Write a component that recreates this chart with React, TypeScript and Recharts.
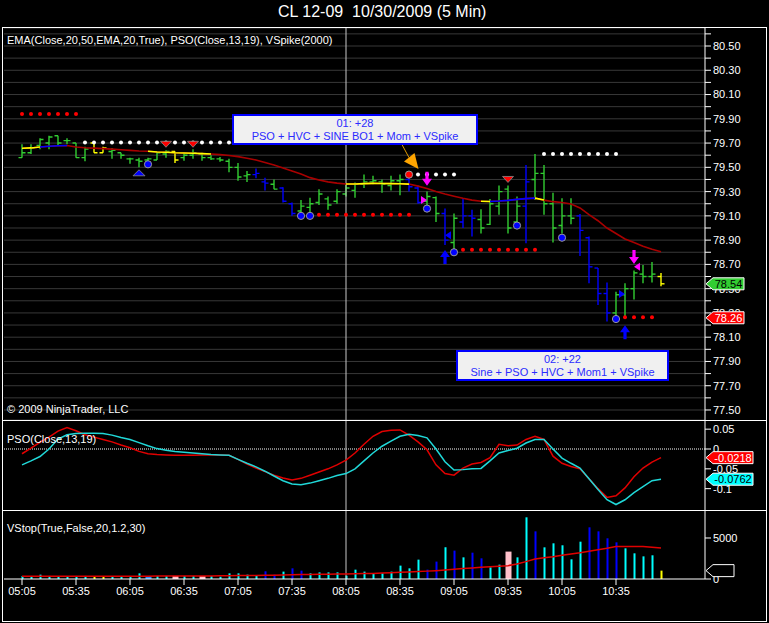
import React from "react";
import {
  ComposedChart,
  Bar,
  Line,
  XAxis,
  YAxis,
  CartesianGrid,
  ReferenceLine,
  ReferenceDot,
} from "recharts";

// CL 12-09, 10/30/2009, 5 min bars from 05:05 to 11:00
const START_MIN = 5 * 60 + 5;
const times = Array.from({ length: 72 }, (_, i) => {
  const m = START_MIN + i * 5;
  return `${String(Math.floor(m / 60)).padStart(2, "0")}:${String(m % 60).padStart(2, "0")}`;
});

const opens = [
  79.58, 79.62, 79.68, 79.70, 79.76, 79.72, 79.70, 79.58, 79.70, 79.62, 79.63, 79.62,
  79.57, 79.56, 79.56, 79.56, 79.61, 79.63, 79.58, 79.60, 79.61, 79.58, 79.57, 79.55,
  79.50, 79.43, 79.44, 79.38, 79.36, 79.33, 79.20, 79.14, 79.17, 79.21, 79.24, 79.22,
  79.28, 79.31, 79.36, 79.38, 79.38, 79.35, 79.39, 79.40, 79.33, 79.22, 79.25, 79.12,
  78.88, 79.05, 79.10, 79.07, 79.03, 79.18, 79.32, 79.05, 79.18, 79.40, 79.45, 79.20,
  79.02, 79.10, 79.10, 78.92, 78.67, 78.46, 78.30, 78.45, 78.50, 78.62, 78.60, 78.60,
];
const highs = [
  79.69, 79.69, 79.74, 79.76, 79.76, 79.74, 79.70, 79.67, 79.70, 79.67, 79.66, 79.62,
  79.58, 79.58, 79.58, 79.63, 79.64, 79.63, 79.62, 79.65, 79.62, 79.60, 79.585, 79.57,
  79.535, 79.47, 79.49, 79.415, 79.40, 79.335, 79.21, 79.23, 79.25, 79.32, 79.26, 79.32,
  79.37, 79.375, 79.44, 79.43, 79.40, 79.43, 79.44, 79.42, 79.35, 79.30, 79.26, 79.16,
  79.12, 79.245, 79.15, 79.155, 79.24, 79.35, 79.35, 79.26, 79.52, 79.61, 79.52, 79.29,
  79.245, 79.245, 79.115, 78.93, 78.67, 78.55, 78.475, 78.545, 78.65, 78.695, 78.72, 78.63,
];
const lows = [
  79.58, 79.61, 79.65, 79.65, 79.68, 79.69, 79.58, 79.55, 79.62, 79.62, 79.57, 79.57,
  79.53, 79.50, 79.54, 79.56, 79.58, 79.535, 79.555, 79.57, 79.555, 79.56, 79.545, 79.46,
  79.39, 79.38, 79.41, 79.31, 79.32, 79.21, 79.10, 79.115, 79.12, 79.19, 79.15, 79.20,
  79.26, 79.25, 79.33, 79.36, 79.29, 79.31, 79.27, 79.30, 79.20, 79.18, 79.05, 78.86,
  78.80, 79.00, 78.93, 78.955, 79.025, 79.11, 78.955, 79.05, 78.875, 79.23, 79.11, 78.88,
  78.955, 79.03, 78.77, 78.545, 78.365, 78.23, 78.24, 78.27, 78.41, 78.545, 78.55, 78.52,
];
const closes = [
  79.62, 79.66, 79.73, 79.75, 79.70, 79.72, 79.58, 79.65, 79.62, 79.66, 79.64, 79.60,
  79.57, 79.55, 79.57, 79.62, 79.63, 79.56, 79.60, 79.62, 79.58, 79.57, 79.56, 79.50,
  79.42, 79.44, 79.45, 79.37, 79.32, 79.22, 79.12, 79.18, 79.20, 79.28, 79.19, 79.30,
  79.33, 79.36, 79.38, 79.39, 79.36, 79.39, 79.40, 79.34, 79.21, 79.26, 79.12, 78.90,
  79.08, 79.10, 79.08, 79.00, 79.20, 79.30, 79.00, 79.18, 79.38, 79.45, 79.20, 79.00,
  79.10, 79.08, 78.98, 78.68, 78.46, 78.30, 78.45, 78.50, 78.63, 78.60, 78.62, 78.54,
];
// g = green, b = blue, y = yellow
const barColors = "ggggggggyygggggggyggggggggbbgbbggggggggggggbbggbgbbgggggbgggggbbbbgggggy";

const ema = [
  79.657, 79.660, 79.668, 79.674, 79.678, 79.680, 79.668, 79.662, 79.658, 79.654, 79.650, 79.645,
  79.640, 79.635, 79.632, 79.626, 79.624, 79.620, 79.618, 79.616, 79.613, 79.610, 79.605, 79.598,
  79.588, 79.575, 79.560, 79.540, 79.520, 79.495, 79.470, 79.445, 79.415, 79.395, 79.380, 79.370,
  79.363, 79.363, 79.366, 79.368, 79.367, 79.366, 79.365, 79.362, 79.345, 79.325, 79.300, 79.280,
  79.262, 79.245, 79.230, 79.220, 79.218, 79.222, 79.228, 79.236, 79.242, 79.246, 79.230, 79.217,
  79.210, 79.198, 79.165, 79.110, 79.060, 79.000, 78.955, 78.910, 78.880, 78.850, 78.825, 78.805,
];
const emaYellowRanges = [[0, 2], [14, 21], [36, 43], [51, 52], [57, 58]];
const emaBlueRanges = [[2, 5], [52, 57]];

// stop levels: [first bar, last bar, price]
const redStops = [[0, 6, 79.94], [33, 43, 79.11], [49, 57, 78.82], [67, 70, 78.265]];
const whiteStops = [[7, 28, 79.705], [44, 48, 79.44], [58, 66, 79.61]];

// signal markers: [bar, price]
const blueCircles = [[14, 79.525], [31, 79.1], [32, 79.1], [45, 79.16], [48, 78.8], [55, 79.02], [60, 78.92], [66, 78.25]];
const redCircles = [[43, 79.44]];
const blueTriUps = [[13, 79.455]];
const redTriDowns = [[16, 79.69], [19, 79.69], [54, 79.4]];
const magentaArrowsDown = [[45, 79.405], [68, 78.76]];
const blueArrowsUp = [[47, 78.76], [67, 78.14]];
const magentaTriRights = [[45, 79.23]];
const magentaTriLefts = [[68, 78.68]];
const blueTriLefts = [[47, 78.94]];
const blueTriRights = [[67, 78.455]];

const psoFast = [
  -0.012, 0.002, 0.017, 0.030, 0.045, 0.054, 0.046, 0.036, 0.030, 0.024, 0.018, 0.010,
  0.003, -0.006, -0.012, -0.014, -0.015, -0.016, -0.016, -0.016, -0.015, -0.015, -0.015, -0.016,
  -0.026, -0.038, -0.048, -0.057, -0.066, -0.073, -0.078, -0.074, -0.066, -0.058, -0.050, -0.040,
  -0.028, -0.010, 0.012, 0.032, 0.044, 0.047, 0.048, 0.035, 0.018, -0.002, -0.040, -0.062,
  -0.066, -0.048, -0.038, -0.034, -0.022, 0.012, 0.008, 0.010, 0.024, 0.032, 0.024, -0.018,
  -0.036, -0.044, -0.050, -0.075, -0.100, -0.122, -0.118, -0.098, -0.070, -0.048, -0.033, -0.0218,
];
const psoSlow = [
  -0.040, -0.030, -0.019, 0.000, 0.025, 0.036, 0.039, 0.040, 0.040, 0.039, 0.035, 0.029,
  0.024, 0.016, 0.008, 0.001, -0.003, -0.006, -0.008, -0.010, -0.012, -0.014, -0.015, -0.016,
  -0.026, -0.036, -0.045, -0.056, -0.068, -0.080, -0.088, -0.090, -0.086, -0.080, -0.074, -0.067,
  -0.062, -0.050, -0.030, -0.010, 0.007, 0.020, 0.032, 0.037, 0.034, 0.028, 0.000, -0.032,
  -0.053, -0.052, -0.050, -0.049, -0.030, -0.010, -0.004, 0.002, 0.015, 0.024, 0.024, 0.000,
  -0.023, -0.036, -0.048, -0.075, -0.102, -0.128, -0.140, -0.128, -0.110, -0.095, -0.080, -0.0762,
];

const volumes = [
  370, 370, 530, 370, 280, 280, 370, 370, 280, 280, 280, 280,
  370, 690, 370, 370, 370, 370, 370, 370, 370, 370, 280, 690,
  690, 530, 400, 940, 530, 900, 1300, 1020, 690, 810, 810, 810,
  400, 1140, 900, 690, 690, 900, 1630, 1300, 2360, 1140, 2120, 3870,
  3460, 2640, 3210, 2520, 1420, 1750, 3340, 2640, 7520, 5810, 3860, 4350,
  4110, 2400, 4550, 6300, 5810, 4960, 4470, 3740, 3130, 2760, 2890, 1020,
];
// c = cyan, b = blue, p = pink, d = dodger blue, y = yellow
const volColors = "ccccccccyyccccdccpccpccccccbbcbbcccccccccccccbbcbcbbccpccbcccccbbbbccccy";
const volAvg = [
  330, 330, 335, 335, 335, 335, 340, 340, 340, 340, 340, 345,
  345, 350, 350, 355, 360, 360, 365, 370, 375, 380, 385, 400,
  420, 430, 440, 460, 470, 490, 520, 540, 560, 570, 580, 600,
  610, 640, 660, 680, 720, 760, 810, 860, 920, 960, 1020, 1100,
  1200, 1280, 1340, 1420, 1500, 1560, 1630, 1830, 2120, 2440, 2600, 2720,
  2900, 3050, 3200, 3380, 3560, 3740, 3950, 3960, 3960, 3950, 3860, 3780,
];

const priceTicks = [
  77.5, 77.6, 77.7, 77.8, 77.9, 78.0, 78.1, 78.2, 78.3, 78.4, 78.5, 78.6, 78.7, 78.8, 78.9, 79.0,
  79.1, 79.2, 79.3, 79.4, 79.5, 79.6, 79.7, 79.8, 79.9, 80.0, 80.1, 80.2, 80.3, 80.4, 80.5, 80.6,
];
const psoTicks = [0.05, 0, -0.05, -0.1];
const volTicks = [0, 5000];
const CURSOR_TIME = "08:05";
const PRICE_DOMAIN = [77.4175, 80.6484];
const PSO_DOMAIN = [-0.1538, 0.0706];
const VOL_DOMAIN = [0, 8290];

const BAR_COLORS: Record<string, string> = { g: "#32cd32", b: "#0000ff", y: "#ffff00" };
const VOL_COLORS: Record<string, string> = { c: "#00ffff", b: "#0000ff", p: "#ffc0cb", d: "#1e90ff", y: "#ffff00" };

const inRanges = (i: number, ranges: number[][]) => ranges.some(([a, b]) => i >= a && i <= b);
const levelAt = (i: number, stops: number[][]) => {
  const s = stops.find(([a, b]) => i >= a && i <= b);
  return s ? s[2] : null;
};

const tri = (pts: number[][], fill: string) => (
  <polygon points={pts.map((p) => p.join(",")).join(" ")} fill={fill} stroke="#8a8a8a" strokeWidth={0.8} />
);

const MARKERS: { key: string; points: number[][]; draw: (x: number, y: number) => React.ReactNode }[] = [
  { key: "mBlueC", points: blueCircles, draw: (x, y) => <circle cx={x} cy={y} r={3.6} fill="#0000ff" stroke="#9a9a9a" /> },
  { key: "mRedC", points: redCircles, draw: (x, y) => <circle cx={x} cy={y} r={3.6} fill="#ff0000" stroke="#9a9a9a" /> },
  { key: "mBlueUp", points: blueTriUps, draw: (x, y) => tri([[x - 6, y + 3], [x + 6, y + 3], [x, y - 3]], "#0000ff") },
  { key: "mRedDown", points: redTriDowns, draw: (x, y) => tri([[x - 5.5, y - 3], [x + 5.5, y - 3], [x, y + 3]], "#ff0000") },
  {
    key: "mMagArrow", points: magentaArrowsDown,
    draw: (x, y) => <polygon points={`${x - 1.6},${y - 7} ${x + 1.6},${y - 7} ${x + 1.6},${y} ${x + 5},${y} ${x},${y + 7} ${x - 5},${y} ${x - 1.6},${y}`} fill="#ff00ff" />,
  },
  {
    key: "mBlueArrow", points: blueArrowsUp,
    draw: (x, y) => <polygon points={`${x - 1.6},${y + 7} ${x + 1.6},${y + 7} ${x + 1.6},${y} ${x + 5},${y} ${x},${y - 7} ${x - 5},${y} ${x - 1.6},${y}`} fill="#0000ff" />,
  },
  { key: "mMagRight", points: magentaTriRights, draw: (x, y) => <polygon points={`${x - 6},${y - 4} ${x},${y} ${x - 6},${y + 4}`} fill="#ff00ff" /> },
  { key: "mMagLeft", points: magentaTriLefts, draw: (x, y) => <polygon points={`${x + 6},${y - 4} ${x},${y} ${x + 6},${y + 4}`} fill="#ff00ff" /> },
  { key: "mBlueLeft", points: blueTriLefts, draw: (x, y) => <polygon points={`${x + 6},${y - 4} ${x},${y} ${x + 6},${y + 4}`} fill="#0000ff" /> },
  { key: "mBlueRight", points: blueTriRights, draw: (x, y) => <polygon points={`${x - 6},${y - 4} ${x},${y} ${x - 6},${y + 4}`} fill="#0000ff" /> },
];

const rows = times.map((t, i) => {
  const row: any = {
    t,
    o: opens[i],
    h: highs[i],
    l: lows[i],
    c: closes[i],
    hl: [lows[i], highs[i]],
    col: barColors[i],
    ema: ema[i],
    emaY: inRanges(i, emaYellowRanges) ? ema[i] : null,
    emaB: inRanges(i, emaBlueRanges) ? ema[i] : null,
    stopR: levelAt(i, redStops),
    stopW: levelAt(i, whiteStops),
    psoR: psoFast[i],
    psoC: psoSlow[i],
    vol: volumes[i],
    volCol: volColors[i],
    volAvg: volAvg[i],
  };
  MARKERS.forEach((m) => {
    const hit = m.points.find((p) => p[0] === i);
    row[m.key] = hit ? hit[1] : null;
  });
  return row;
});

const W = 769;
const PLOT_LEFT = 4;
const AXIS_W = 64;
const X_PAD = { left: 13.5, right: 39.5 };
const TICK = { fill: "#ffffff", fontSize: 11 };
const FONT = "'Liberation Sans', Arial, sans-serif";

const makeDot = (draw: (x: number, y: number) => React.ReactNode) => (props: any) => {
  const { cx, cy, value, index } = props;
  if (value == null || cx == null || cy == null || isNaN(cy)) return <g key={`n${index}`} />;
  return <g key={`d${index}`}>{draw(cx, cy)}</g>;
};

const OhlcShape = (props: any) => {
  const { x, y, width, height, payload } = props;
  if (!payload || height == null || isNaN(y)) return <g />;
  const c = x + width / 2;
  const span = payload.h - payload.l;
  const py = (v: number) => (span > 0 ? y + ((payload.h - v) / span) * height : y);
  return (
    <g stroke={BAR_COLORS[payload.col]} strokeWidth={1.4}>
      <line x1={c} x2={c} y1={y} y2={y + Math.max(height, 1)} />
      <line x1={c - 3.5} x2={c} y1={py(payload.o)} y2={py(payload.o)} />
      <line x1={c} x2={c + 3.5} y1={py(payload.c)} y2={py(payload.c)} />
    </g>
  );
};

const VolShape = (props: any) => {
  const { x, y, width, height, payload } = props;
  if (!payload || height == null || isNaN(y)) return <g />;
  const wide = payload.volCol === "p" || payload.volCol === "d";
  const w = wide ? 6 : 2;
  const c = x + width / 2;
  return <rect x={c - w / 2} y={y} width={w} height={height} fill={VOL_COLORS[payload.volCol]} />;
};

const Tag = ({ viewBox, text, fill, color, w }: any) => {
  if (!viewBox) return null;
  const x0 = viewBox.x + viewBox.width + 1;
  const cy = viewBox.y;
  return (
    <g>
      <polygon
        points={`${x0},${cy} ${x0 + 7},${cy - 6} ${x0 + w},${cy - 6} ${x0 + w},${cy + 6} ${x0 + 7},${cy + 6}`}
        fill={fill}
        stroke="#ffffff"
        strokeWidth={1}
      />
      {text ? (
        <text x={x0 + 7 + (w - 7) / 2} y={cy + 4} fill={color} fontSize={11} textAnchor="middle">
          {text}
        </text>
      ) : null}
    </g>
  );
};

// orange arrow pointing at the first trade entry bar
const EntryArrow = (props: any) => {
  const { cx, cy } = props;
  if (cx == null || cy == null) return <g />;
  return (
    <g>
      <line x1={cx - 16} y1={cy - 30} x2={cx - 9} y2={cy - 17} stroke="#e09a00" strokeWidth={1} />
      <polygon points={`${cx - 14},${cy - 13} ${cx - 3.5},${cy - 21.5} ${cx + 0.5},${cy - 5.5}`} fill="#ffa500" />
    </g>
  );
};

// last-value tags sit on top of the axis labels, so they get a transparent chart of their own
type TagSpec = { value: number; text: string; fill: string; color: string; w: number };
const TagLayer = ({ height, domain, tags }: { height: number; domain: number[]; tags: TagSpec[] }) => (
  <ComposedChart width={W} height={height} data={rows} margin={{ top: 0, right: AXIS_W, bottom: 0, left: PLOT_LEFT }}>
    <XAxis dataKey="t" hide scale="band" padding={X_PAD} />
    <YAxis hide domain={domain} allowDataOverflow />
    {tags.map((tg) => (
      <ReferenceLine
        key={tg.text + tg.value}
        y={tg.value}
        stroke="none"
        label={(p: any) => <Tag viewBox={p.viewBox} text={tg.text} fill={tg.fill} color={tg.color} w={tg.w} />}
      />
    ))}
  </ComposedChart>
);

const fmtPrice = (v: number) => (Math.round(v * 10) % 2 === 1 ? v.toFixed(2) : "");
const fmtPso = (v: number) => (v === 0 ? "0" : String(v));

const boxStyle: React.CSSProperties = {
  position: "absolute",
  boxSizing: "border-box",
  border: "2px solid #0000ff",
  background: "#f0f0f0",
  color: "#2b2bff",
  fontSize: 11,
  lineHeight: "12.5px",
  textAlign: "center",
  paddingTop: 1,
};

const label = (top: number, text: string): React.ReactNode => (
  <div style={{ position: "absolute", left: 7, top, color: "#ffffff", fontSize: 11, whiteSpace: "nowrap" }}>{text}</div>
);

const hLine = (top: number) => (
  <div style={{ position: "absolute", left: 2, top, width: 765, height: 1, background: "#ffffff" }} />
);

const at = (top: number, child: React.ReactNode) => (
  <div style={{ position: "absolute", left: 0, top }}>{child}</div>
);

export default function App() {
  return (
    <div style={{ position: "absolute", left: 0, top: 0, width: W, height: 623, background: "#000000", overflow: "hidden", fontFamily: FONT }}>
      <div style={{ position: "absolute", left: 278, top: 3, color: "#ffffff", fontSize: 16, whiteSpace: "pre" }}>
        CL 12-09  10/30/2009 (5 Min)
      </div>

      {/* price panel */}
      {at(28,
        <ComposedChart width={W} height={392} data={rows} margin={{ top: 0, right: 0, bottom: 0, left: PLOT_LEFT }}>
          <CartesianGrid vertical={false} stroke="#383838" />
          <XAxis dataKey="t" hide scale="band" padding={X_PAD} />
          <YAxis
            orientation="right"
            width={AXIS_W}
            domain={PRICE_DOMAIN}
            allowDataOverflow
            ticks={priceTicks}
            interval={0}
            tickFormatter={fmtPrice}
            tick={TICK}
            tickSize={6}
            axisLine={{ stroke: "#ffffff" }}
            tickLine={{ stroke: "#ffffff" }}
          />
          <ReferenceLine x={CURSOR_TIME} stroke="#c8c8c8" />
          <Line dataKey="ema" stroke="#a80000" strokeWidth={1.6} dot={false} activeDot={false} isAnimationActive={false} />
          <Line dataKey="emaY" stroke="#ffff00" strokeWidth={1.6} dot={false} activeDot={false} connectNulls={false} isAnimationActive={false} />
          <Line dataKey="emaB" stroke="#0000ff" strokeWidth={1.6} dot={false} activeDot={false} connectNulls={false} isAnimationActive={false} />
          <Bar dataKey="hl" barSize={7} shape={OhlcShape} isAnimationActive={false} />
          <Line dataKey="stopR" stroke="none" activeDot={false} isAnimationActive={false}
            dot={makeDot((x, y) => <circle cx={x} cy={y} r={2} fill="#ff0000" />)} />
          <Line dataKey="stopW" stroke="none" activeDot={false} isAnimationActive={false}
            dot={makeDot((x, y) => <circle cx={x} cy={y} r={2} fill="#ffffff" />)} />
          {MARKERS.map((m) => (
            <Line key={m.key} dataKey={m.key} stroke="none" activeDot={false} isAnimationActive={false} dot={makeDot(m.draw)} />
          ))}
          <ReferenceDot x={times[44]} y={79.44} r={0} shape={EntryArrow} />
        </ComposedChart>
      )}
      {at(28,
        <TagLayer
          height={392}
          domain={PRICE_DOMAIN}
          tags={[
            { value: closes[71], text: "78.54", fill: "#32cd32", color: "#000000", w: 38 },
            { value: 78.26, text: "78.26", fill: "#ff0000", color: "#ffffff", w: 38 },
          ]}
        />
      )}

      {/* PSO panel */}
      {at(421,
        <ComposedChart width={W} height={89} data={rows} margin={{ top: 0, right: 0, bottom: 0, left: PLOT_LEFT }}>
          <XAxis dataKey="t" hide scale="band" padding={X_PAD} />
          <YAxis
            orientation="right"
            width={AXIS_W}
            domain={PSO_DOMAIN}
            allowDataOverflow
            ticks={psoTicks}
            interval={0}
            tickFormatter={fmtPso}
            tick={TICK}
            tickSize={6}
            axisLine={{ stroke: "#ffffff" }}
            tickLine={{ stroke: "#ffffff" }}
          />
          <ReferenceLine y={0} stroke="#ffffff" strokeDasharray="1 1" />
          <ReferenceLine x={CURSOR_TIME} stroke="#c8c8c8" />
          <Line dataKey="psoR" stroke="#e00000" strokeWidth={1.5} dot={false} activeDot={false} isAnimationActive={false} />
          <Line dataKey="psoC" stroke="#20d8d8" strokeWidth={1.5} dot={false} activeDot={false} isAnimationActive={false} />
        </ComposedChart>
      )}
      {at(421,
        <TagLayer
          height={89}
          domain={PSO_DOMAIN}
          tags={[
            { value: psoFast[71], text: "-0.0218", fill: "#ff0000", color: "#ffffff", w: 47 },
            { value: psoSlow[71], text: "-0.0762", fill: "#00ffff", color: "#000000", w: 47 },
          ]}
        />
      )}

      {/* volume panel */}
      {at(511,
        <ComposedChart width={W} height={112} data={rows} margin={{ top: 0, right: 0, bottom: 0, left: PLOT_LEFT }}>
          <XAxis
            dataKey="t"
            scale="band"
            padding={X_PAD}
            interval={5}
            height={44}
            tick={TICK}
            tickSize={6}
            axisLine={{ stroke: "#ffffff" }}
            tickLine={{ stroke: "#ffffff" }}
          />
          <YAxis
            orientation="right"
            width={AXIS_W}
            domain={VOL_DOMAIN}
            allowDataOverflow
            ticks={volTicks}
            interval={0}
            tick={TICK}
            tickSize={6}
            axisLine={{ stroke: "#ffffff" }}
            tickLine={{ stroke: "#ffffff" }}
          />
          <ReferenceLine x={CURSOR_TIME} stroke="#c8c8c8" />
          <Bar dataKey="vol" barSize={6} shape={VolShape} isAnimationActive={false} />
          <Line dataKey="volAvg" stroke="#e00000" strokeWidth={1.5} dot={false} activeDot={false} isAnimationActive={false} />
        </ComposedChart>
      )}
      {at(511,
        <TagLayer
          height={68}
          domain={VOL_DOMAIN}
          tags={[{ value: volumes[71], text: "", fill: "#000000", color: "#ffffff", w: 28 }]}
        />
      )}

      {/* panel frame */}
      {hLine(27)}
      {hLine(420)}
      {hLine(510)}
      <div style={{ position: "absolute", left: 2, top: 27, width: 1, height: 595, background: "#ffffff" }} />
      <div style={{ position: "absolute", left: 766, top: 27, width: 1, height: 595, background: "#ffffff" }} />
      <div style={{ position: "absolute", left: 2, top: 621, width: 765, height: 1, background: "#ffffff" }} />

      {label(34, "EMA(Close,20,50,EMA,20,True), PSO(Close,13,19), VSpike(2000)")}
      {label(403, "\u00a9 2009 NinjaTrader, LLC")}
      {label(433, "PSO(Close,13,19)")}
      {label(522, "VStop(True,False,20,1.2,30)")}

      <div style={{ ...boxStyle, left: 232, top: 114, width: 246, height: 31 }}>
        <div>01: +28</div>
        <div>PSO + HVC + SINE BO1 + Mom + VSpike</div>
      </div>
      <div style={{ ...boxStyle, left: 456, top: 350, width: 213, height: 31 }}>
        <div>02: +22</div>
        <div>Sine + PSO + HVC + Mom1 + VSpike</div>
      </div>
    </div>
  );
}
